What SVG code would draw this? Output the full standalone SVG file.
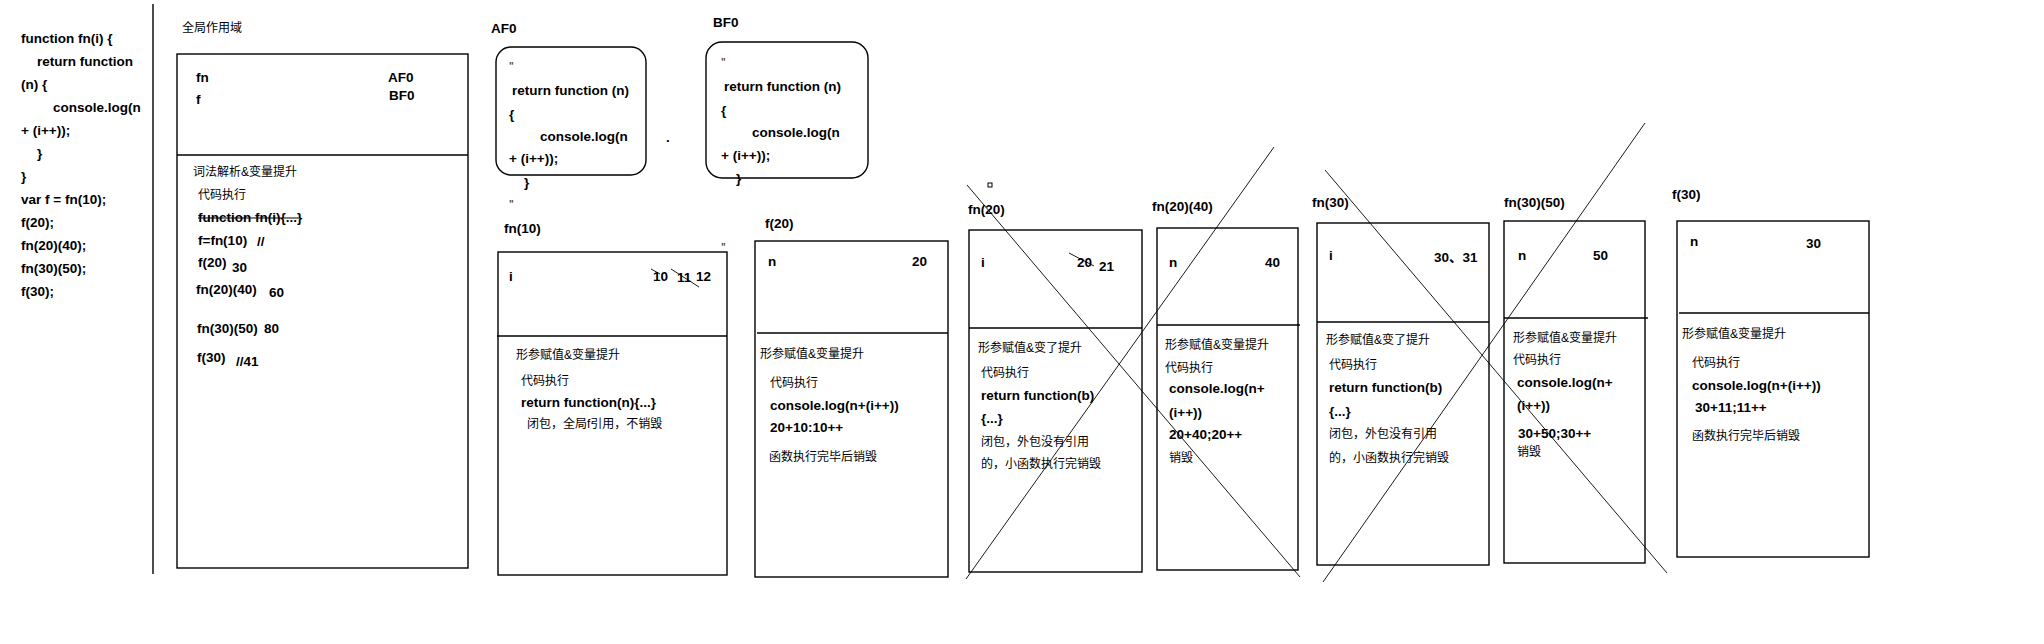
<svg xmlns="http://www.w3.org/2000/svg" width="2044" height="644" viewBox="0 0 2044 644">
<style>
.t{font-family:"Liberation Sans","Noto Sans CJK SC",sans-serif;font-size:13.5px;font-weight:bold;fill:#000}
.c{font-family:"Liberation Sans","Noto Sans CJK SC",sans-serif;font-size:12px;font-weight:normal;fill:#000}
.q{font-family:"Liberation Sans",sans-serif;font-size:10px;font-weight:bold;fill:#6b4a2a}
.box{fill:none;stroke:#000;stroke-width:1.4}
.div{stroke:#000;stroke-width:1.4}
.thin{stroke:#000;stroke-width:0.9;fill:none}
</style>
<rect width="2044" height="644" fill="#fff"/>

<g id="code">
<line x1="153" y1="4" x2="153" y2="574" class="div"/>
<text class="t" x="21" y="43">function fn(i) {</text>
<text class="t" x="37" y="66">return function</text>
<text class="t" x="21" y="89">(n) {</text>
<text class="t" x="53" y="112">console.log(n</text>
<text class="t" x="21" y="135">+ (i++));</text>
<text class="t" x="37" y="158">}</text>
<text class="t" x="21" y="181">}</text>
<text class="t" x="21" y="204">var f = fn(10);</text>
<text class="t" x="21" y="227">f(20);</text>
<text class="t" x="21" y="250">fn(20)(40);</text>
<text class="t" x="21" y="273">fn(30)(50);</text>
<text class="t" x="21" y="296">f(30);</text>
</g>

<g id="global">
<text class="c" x="182" y="32">全局作用域</text>
<rect class="box" x="177" y="54" width="291" height="514"/>
<line class="div" x1="177" y1="155" x2="468" y2="155"/>
<text class="t" x="196" y="82">fn</text>
<text class="t" x="388" y="82">AF0</text>
<text class="t" x="196" y="104">f</text>
<text class="t" x="389" y="100">BF0</text>
<text class="c" x="193" y="176">词法解析&amp;变量提升</text>
<text class="c" x="198" y="199">代码执行</text>
<text class="t" x="198" y="222">function fn(i){...}</text>
<line x1="198" y1="218" x2="300" y2="218" stroke="#000" stroke-width="1.2"/>
<text class="t" x="198" y="245">f=fn(10)</text>
<text class="t" x="257" y="246">//</text>
<text class="t" x="198" y="267">f(20)</text>
<text class="t" x="232" y="272">30</text>
<text class="t" x="196" y="294">fn(20)(40)</text>
<text class="t" x="269" y="297">60</text>
<text class="t" x="197" y="333">fn(30)(50)</text>
<text class="t" x="264" y="333" font-weight="normal">80</text>
<text class="t" x="197" y="362">f(30)</text>
<text class="t" x="236" y="366">//41</text>
</g>

<g id="AF0">
<text class="t" x="491" y="33">AF0</text>
<rect class="box" x="496" y="47" width="150" height="128" rx="15"/>
<text class="q" x="509" y="70">"</text>
<text class="t" x="512" y="95">return function (n)</text>
<text class="t" x="509" y="119">{</text>
<text class="t" x="540" y="141">console.log(n</text>
<text class="t" x="509" y="163">+ (i++));</text>
<text class="t" x="524" y="187">}</text>
<text class="q" x="509" y="208">"</text>
</g>

<text class="t" x="666" y="142">.</text>

<g id="BF0">
<text class="t" x="713" y="27">BF0</text>
<rect class="box" x="706" y="42" width="162" height="136" rx="16"/>
<text class="q" x="721" y="66">"</text>
<text class="t" x="724" y="91">return function (n)</text>
<text class="t" x="721" y="115">{</text>
<text class="t" x="752" y="137">console.log(n</text>
<text class="t" x="721" y="160">+ (i++));</text>
<text class="t" x="736" y="183">}</text>
</g>

<g id="fn10">
<text class="t" x="504" y="233">fn(10)</text>
<text class="q" x="721" y="251">"</text>
<rect class="box" x="498" y="252" width="229" height="323"/>
<line class="div" x1="497" y1="336" x2="727" y2="336"/>
<text class="t" x="509" y="281">i</text>
<text class="t" x="653" y="281">10</text>
<text class="t" x="677" y="282">11</text>
<text class="t" x="696" y="281">12</text>
<line class="thin" x1="651" y1="269" x2="660" y2="274"/>
<line class="thin" x1="671" y1="269" x2="699" y2="287"/>
<text class="c" x="516" y="359">形参赋值&amp;变量提升</text>
<text class="c" x="521" y="385">代码执行</text>
<text class="t" x="521" y="407">return function(n){...}</text>
<text class="c" x="527" y="428">闭包，全局f引用，不销毁</text>
</g>

<g id="f20">
<text class="t" x="765" y="228">f(20)</text>
<rect class="box" x="755" y="241" width="193" height="336"/>
<line class="div" x1="757" y1="333" x2="948" y2="333"/>
<text class="t" x="768" y="266">n</text>
<text class="t" x="912" y="266">20</text>
<text class="c" x="760" y="358">形参赋值&amp;变量提升</text>
<text class="c" x="770" y="387">代码执行</text>
<text class="t" x="770" y="410">console.log(n+(i++))</text>
<text class="t" x="770" y="432">20+10:10++</text>
<text class="c" x="769" y="461">函数执行完毕后销毁</text>
</g>

<g id="fn20">
<rect x="988" y="183" width="4" height="4" fill="none" stroke="#000" stroke-width="1"/>
<text class="t" x="968" y="214">fn(20)</text>
<rect class="box" x="969" y="230" width="173" height="342"/>
<line class="div" x1="969" y1="328" x2="1142" y2="328"/>
<text class="t" x="981" y="267">i</text>
<text class="t" x="1077" y="267">20</text>
<text class="t" x="1099" y="271">21</text>
<line class="thin" x1="1069" y1="253" x2="1094" y2="266"/>
<text class="c" x="978" y="352">形参赋值&amp;变了提升</text>
<text class="c" x="981" y="377">代码执行</text>
<text class="t" x="981" y="400">return function(b)</text>
<text class="t" x="981" y="423">{...}</text>
<text class="c" x="981" y="446">闭包，外包没有引用</text>
<text class="c" x="981" y="468">的，小函数执行完销毁</text>
</g>

<g id="fn20_40">
<text class="t" x="1152" y="211">fn(20)(40)</text>
<rect class="box" x="1157" y="228" width="141" height="342"/>
<line class="div" x1="1157" y1="325" x2="1300" y2="325"/>
<text class="t" x="1169" y="267">n</text>
<text class="t" x="1265" y="267">40</text>
<text class="c" x="1165" y="349">形参赋值&amp;变量提升</text>
<text class="c" x="1165" y="372">代码执行</text>
<text class="t" x="1169" y="393">console.log(n+</text>
<text class="t" x="1169" y="417">(i++))</text>
<text class="t" x="1169" y="439">20+40;20++</text>
<text class="c" x="1169" y="462">销毁</text>
</g>

<g id="fn30">
<text class="t" x="1312" y="207">fn(30)</text>
<rect class="box" x="1317" y="223" width="172" height="342"/>
<line class="div" x1="1317" y1="322" x2="1489" y2="322"/>
<text class="t" x="1329" y="260">i</text>
<text class="t" x="1434" y="262">30、31</text>
<text class="c" x="1326" y="344">形参赋值&amp;变了提升</text>
<text class="c" x="1329" y="369">代码执行</text>
<text class="t" x="1329" y="392">return function(b)</text>
<text class="t" x="1329" y="416">{...}</text>
<text class="c" x="1329" y="438">闭包，外包没有引用</text>
<text class="c" x="1329" y="462">的，小函数执行完销毁</text>
</g>

<g id="fn30_50">
<text class="t" x="1504" y="207">fn(30)(50)</text>
<rect class="box" x="1504" y="221" width="141" height="342"/>
<line class="div" x1="1504" y1="318" x2="1648" y2="318"/>
<text class="t" x="1518" y="260">n</text>
<text class="t" x="1593" y="260">50</text>
<text class="c" x="1513" y="342">形参赋值&amp;变量提升</text>
<text class="c" x="1513" y="364">代码执行</text>
<text class="t" x="1517" y="387">console.log(n+</text>
<text class="t" x="1517" y="410">(i++))</text>
<text class="t" x="1518" y="438">30+50;30++</text>
<text class="c" x="1517" y="456">销毁</text>
</g>

<g id="f30">
<text class="t" x="1672" y="199">f(30)</text>
<rect class="box" x="1677" y="221" width="192" height="336"/>
<line class="div" x1="1679" y1="313" x2="1869" y2="313"/>
<text class="t" x="1690" y="246">n</text>
<text class="t" x="1806" y="248">30</text>
<text class="c" x="1682" y="338">形参赋值&amp;变量提升</text>
<text class="c" x="1692" y="367">代码执行</text>
<text class="t" x="1692" y="390">console.log(n+(i++))</text>
<text class="t" x="1695" y="412">30+11;11++</text>
<text class="c" x="1692" y="440">函数执行完毕后销毁</text>
</g>

<g id="connectors">
<line class="thin" x1="967" y1="185" x2="1300" y2="577"/>
<line class="thin" x1="1274" y1="147" x2="966" y2="579"/>
<line class="thin" x1="1325" y1="170" x2="1667" y2="573"/>
<line class="thin" x1="1645" y1="123" x2="1323" y2="582"/>
</g>
</svg>
